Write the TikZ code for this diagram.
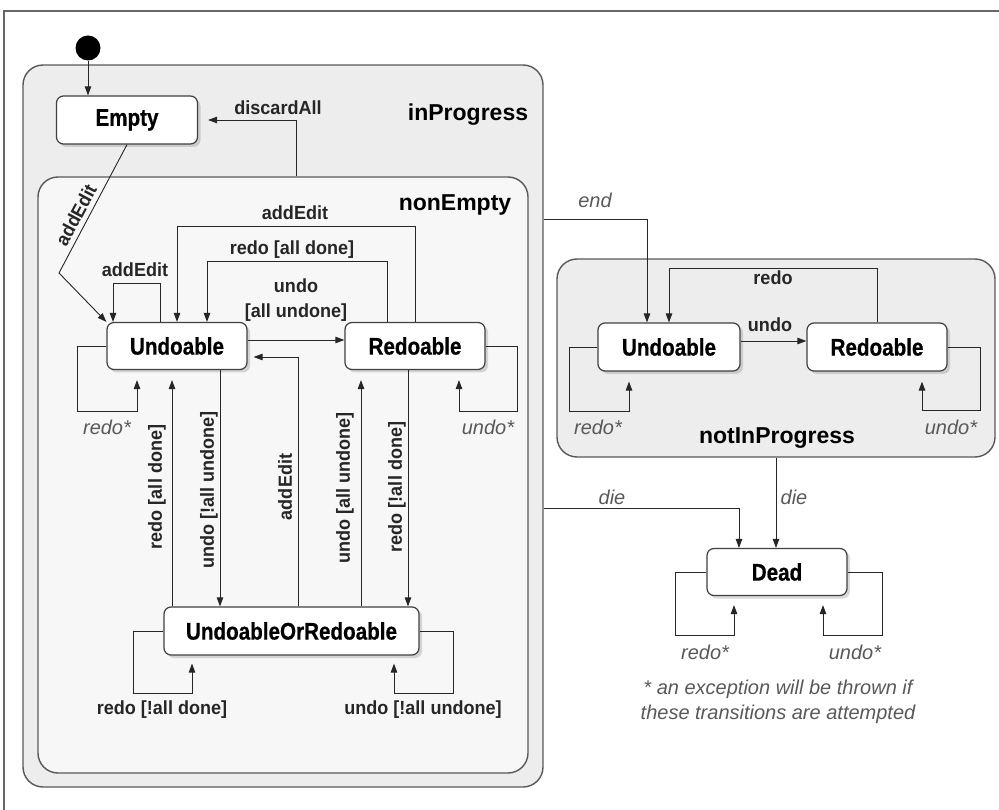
\documentclass[tikz,border=0pt]{standalone}
\usepackage{fontspec}
\setmainfont{Liberation Sans}
\newfontfamily\statefont[FakeStretch=0.86, FakeBold=0.6]{Liberation Sans}
\newfontfamily\lblfont[FakeStretch=0.95]{Liberation Sans}
\usetikzlibrary{arrows.meta,shadows}

\begin{document}
\begin{tikzpicture}[
	x=1pt, y=-1pt,
	state/.style={ rectangle, rounded corners=7pt, draw=black!75, line width=1.2pt, fill=white, minimum width=140pt, minimum height=47pt, inner sep=0pt, drop shadow={shadow xshift=3pt, shadow yshift=-3pt, opacity=0.3}, font=\statefont\fontsize{24}{26}\selectfont\bfseries },
	group/.style={ rectangle, rounded corners=20pt, draw=black!65, line width=1.4pt, inner sep=0pt },
	groupname/.style={ font=\fontsize{23}{25}\selectfont\bfseries },
	trans/.style={ draw=black!85, line width=0.9pt, -{Triangle[length=9pt,width=6.5pt]} },
	lbl/.style={ font=\lblfont\fontsize{19}{25}\selectfont\bfseries, text=black!85, inner sep=1pt },
	cond/.style={ font=\fontsize{20}{25}\selectfont\itshape, text=black!65, inner sep=1pt }
]
\useasboundingbox (0,0) rectangle (999,810);
\draw[black!60, line width=1.4pt] (4,810) -- (4,11) -- (999,11);

% composite states
\node at (283,426) (inProg) [group, fill=black!7, minimum width=520pt, minimum height=722pt] {};
\node at (283,475) (nonE) [group, fill=black!3, minimum width=490pt, minimum height=596pt] {};
\node at (776,358) (notInProg) [group, fill=black!7, minimum width=438pt, minimum height=198pt] {};
\node at (468,115) (inProgName) [groupname] {inProgress};
\node at (455,205) (nonEName) [groupname] {nonEmpty};
\node at (777,438) (notInProgName) [groupname] {notInProgress};

% simple states
\node at (88,48) (init) [circle, fill=black, minimum size=25pt, inner sep=0pt] {};
\node at (127,120) (empty) [state, minimum width=141pt, minimum height=48pt] {Empty};
\node at (177,346) (undoA) [state] {Undoable};
\node at (415,346) (redoA) [state] {Redoable};
\node at (291.5,631) (either) [state, minimum width=255pt, minimum height=48pt] {UndoableOrRedoable};
\node at (669,347) (undoB) [state, minimum width=142pt, minimum height=48pt] {Undoable};
\node at (877,347) (redoB) [state, minimum height=48pt] {Redoable};
\node at (777,572) (dead) [state] {Dead};

% inProgress
\draw[trans] (init.south) -- (init.south |- empty.north);
\draw[trans, shorten >=10pt] ([xshift=13pt]nonE.north) |- (empty.east);
\draw[trans] (empty.south) -- (59,273) -- (undoA.north west);
\draw[trans] ([xshift=-17pt]undoA.north) -- ++(0,-38) -| ([xshift=-64pt]undoA.north);
\draw[trans] (redoA.north) -- ++(0,-95) -| (undoA.north);
\draw[trans] ([xshift=-28pt]redoA.north) -- ++(0,-60) -| ([xshift=30pt]undoA.north);
\draw[trans] ([yshift=6pt]undoA.east) -- ([yshift=6pt]redoA.west);
\draw[trans, shorten >=10pt] (undoA.west) -| (77,411) -| ([xshift=-40pt]undoA.south);
\draw[trans, shorten >=10pt] (redoA.east) -| (517,411) -| ([xshift=44pt]redoA.south);
\draw[trans, shorten >=10pt] ([xshift=-119.5pt]either.north) -- ([xshift=-119.5pt]either.north |- undoA.south);
\draw[trans] ([xshift=43pt]undoA.south) -- ([xshift=43pt]undoA.south |- either.north);
\draw[trans, shorten >=6pt] ([xshift=6.5pt]either.north) |- ([yshift=-11pt]undoA.east);
\draw[trans, shorten >=10pt] ([xshift=69.5pt]either.north) -- ([xshift=69.5pt]either.north |- redoA.south);
\draw[trans] ([xshift=-7pt]redoA.south) -- ([xshift=-7pt]redoA.south |- either.north);
\draw[trans, shorten >=8pt] (either.west) -| (133,693) -| ([xshift=-99.5pt]either.south);
\draw[trans, shorten >=8pt] (either.east) -| (453,693) -| ([xshift=102.5pt]either.south);

% notInProgress and dead
\draw[trans] ([yshift=207pt]inProg.east) -| ([xshift=-22pt]undoB.north);
\draw[trans] (redoB.north) -- ++(0,-54) -| (undoB.north);
\draw[trans] ([yshift=6pt]undoB.east) -- ([yshift=6pt]redoB.west);
\draw[trans, shorten >=10pt] (undoB.west) -| (569,411) -| ([xshift=-40pt]undoB.south);
\draw[trans, shorten >=10pt] (redoB.east) -| (980,410) -| ([xshift=45pt]redoB.south);
\draw[trans] (notInProg.south) -- (notInProg.south |- dead.north);
\draw[trans] ([yshift=-82pt]inProg.east) -| ([xshift=-38pt]dead.north);
\draw[trans, shorten >=9pt] (dead.west) -| (675,635) -| ([xshift=-43pt]dead.south);
\draw[trans, shorten >=9pt] (dead.east) -| (882,635) -| ([xshift=46pt]dead.south);

% labels
\node at (278,108) (discardLbl) [lbl] {discardAll};
\node at (76,215) (addEmptyLbl) [lbl, rotate=62] {addEdit};
\node at (135,270) (addSelfLbl) [lbl] {addEdit};
\node at (295,213) (addRedoLbl) [lbl] {addEdit};
\node at (292,250) (redoAllLbl) [lbl] {redo [all done]};
\node at (296,300) (undoAllLbl) [lbl, align=center] {undo\\{}[all undone]};
\node at (157,487) (redoUpLbl) [lbl, rotate=90] {redo [all done]};
\node at (209,490) (undoDownLbl) [lbl, rotate=90] {undo [!all undone]};
\node at (285,487) (addUpLbl) [lbl, rotate=90] {addEdit};
\node at (345,488) (undoUpLbl) [lbl, rotate=90] {undo [all undone]};
\node at (397,487) (redoDownLbl) [lbl, rotate=90] {redo [!all done]};
\node at (107,427) (redoStarA) [cond] {redo*};
\node at (488,427) (undoStarA) [cond] {undo*};
\node at (162,710) (redoSelfLbl) [lbl] {redo [!all done]};
\node at (423,710) (undoSelfLbl) [lbl] {undo [!all undone]};
\node at (595,200) (endLbl) [cond] {end};
\node at (773,278) (redoB_lbl) [lbl] {redo};
\node at (770,325) (undoB_lbl) [lbl] {undo};
\node at (598,427) (redoStarB) [cond] {redo*};
\node at (951,427) (undoStarB) [cond] {undo*};
\node at (612,497) (dieA) [cond] {die};
\node at (794,497) (dieB) [cond] {die};
\node at (705,652) (redoStarC) [cond] {redo*};
\node at (855,652) (undoStarC) [cond] {undo*};
\node at (778,702) (note) [cond, align=center] {* an exception will be thrown if\\these transitions are attempted};

\end{tikzpicture}
\end{document}
